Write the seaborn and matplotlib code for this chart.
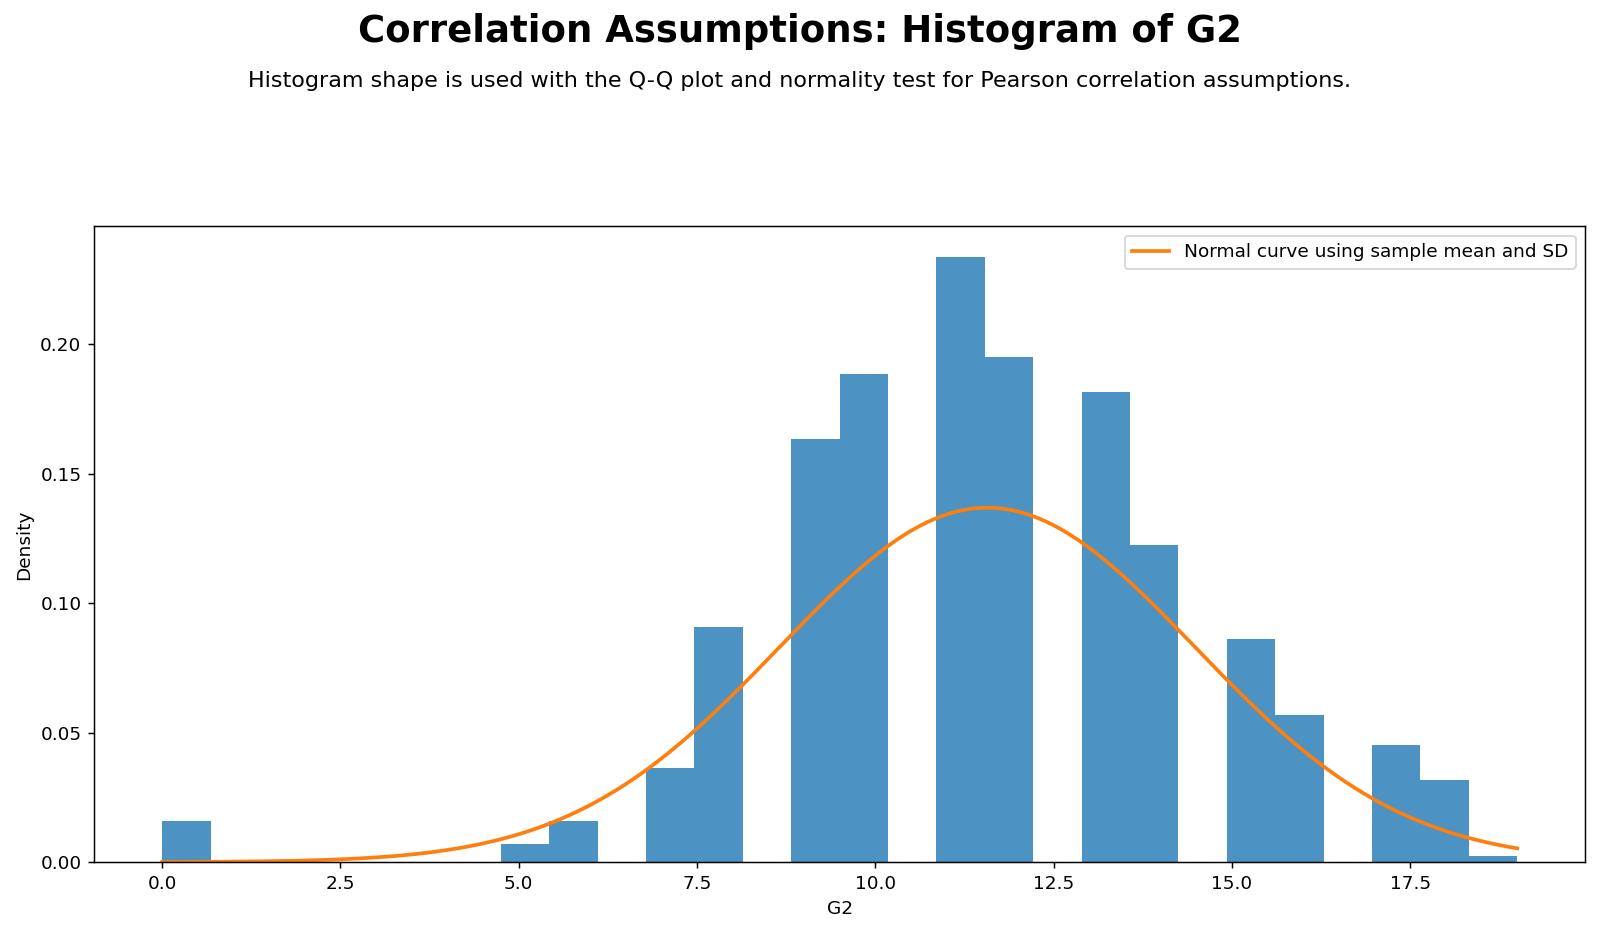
import numpy as np
import pandas as pd
import seaborn as sns
from matplotlib import pyplot as plt

# G2 grades and how many students got each one
grades = [0, 5, 6, 7, 8, 9, 10, 11, 12, 13, 14, 15, 16, 17, 18, 19]
counts = [7, 3, 7, 16, 40, 72, 83, 103, 86, 80, 54, 38, 25, 20, 14, 1]

df = pd.DataFrame({'G2': np.repeat(grades, counts)})

fig, ax = plt.subplots(figsize=(12, 6.99), dpi=1600 / 12)
fig.subplots_adjust(left=0.059, right=0.9906, top=0.757, bottom=0.075)

sns.histplot(data=df, x='G2', bins=28, stat='density', color='#1f77b4',
             alpha=0.8, linewidth=0, ax=ax)

# Normal curve from the sample mean and SD
mean = df['G2'].mean()
sd = df['G2'].std()
xs = np.linspace(df['G2'].min(), df['G2'].max(), 300)
pdf = np.exp(-0.5 * ((xs - mean) / sd) ** 2) / (sd * np.sqrt(2 * np.pi))
sns.lineplot(x=xs, y=pdf, color='#ff7f0e', linewidth=2,
             label='Normal curve using sample mean and SD', ax=ax)

ax.set_xlabel('G2')
ax.set_ylabel('Density')
ax.legend(loc='upper right')

fig.text(0.5, 0.966, 'Correlation Assumptions: Histogram of G2',
         ha='center', va='center', fontsize=20, fontweight='bold')
fig.text(0.5, 0.913, 'Histogram shape is used with the Q-Q plot and normality test '
         'for Pearson correlation assumptions.', ha='center', va='center', fontsize=12)

plt.savefig('out.png')
plt.close()
